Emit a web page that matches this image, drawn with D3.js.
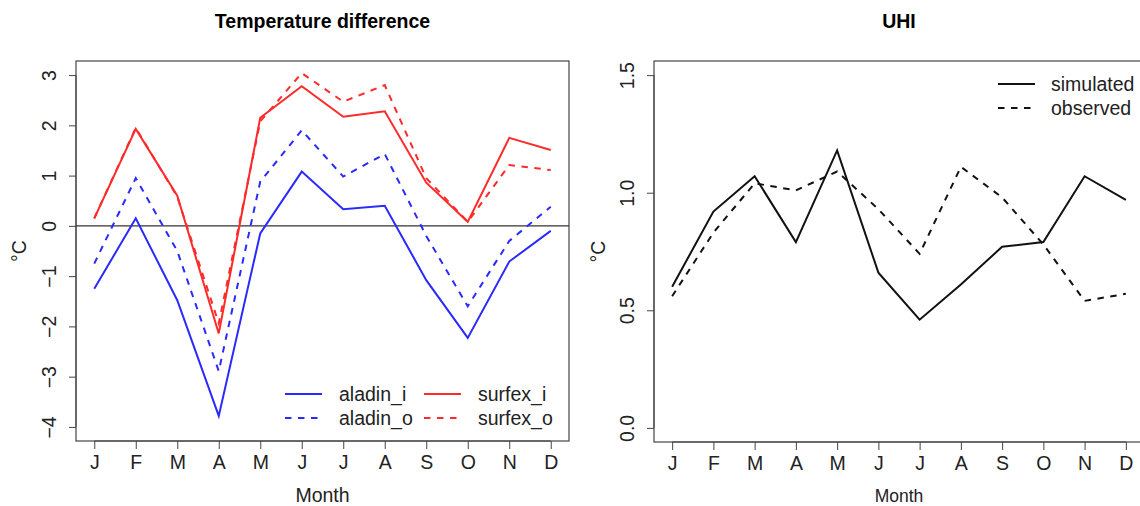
<!DOCTYPE html>
<html>
<head>
<meta charset="utf-8">
<script src="https://cdn.jsdelivr.net/npm/d3@7"></script>
<style>
  body { margin: 0; background: #fff; }
  svg { display: block; font-family: "Liberation Sans", Arial, Helvetica, sans-serif; }
</style>
</head>
<body>
<svg id="chart"></svg>
<script>
// month labels shared by both panels
const months = ['J', 'F', 'M', 'A', 'M', 'J', 'J', 'A', 'S', 'O', 'N', 'D'];

// left panel: temperature difference (°C)
const aladinI = [-1.25, 0.15, -1.48, -3.78, -0.15, 1.08, 0.33, 0.4, -1.08, -2.23, -0.71, -0.1];
const aladinO = [-0.75, 0.95, -0.5, -2.89, 0.88, 1.9, 0.98, 1.43, -0.2, -1.6, -0.3, 0.38];
const surfexI = [0.15, 1.93, 0.6, -2.14, 2.15, 2.78, 2.17, 2.28, 0.86, 0.08, 1.75, 1.51];
const surfexO = [0.15, 1.95, 0.58, -1.94, 2.08, 3.04, 2.47, 2.8, 0.95, 0.08, 1.21, 1.11];
const leftTicks = [-4, -3, -2, -1, 0, 1, 2, 3];

// right panel: UHI
const simulated = [0.6, 0.92, 1.07, 0.79, 1.18, 0.66, 0.46, 0.61, 0.77, 0.79, 1.07, 0.97];
const observed = [0.56, 0.83, 1.04, 1.01, 1.09, 0.93, 0.74, 1.11, 0.98, 0.78, 0.54, 0.57];
const rightTicks = [0, 0.5, 1, 1.5];

const W = 1140;
const H = 506;
const FS = 19.5;
const DASH = '6.5,6.5';
const svg = d3.select('#chart').attr('width', W).attr('height', H);

// R-style 4% axis extension
function pad(lo, hi) {
  const e = (hi - lo) * 0.04;
  return [lo - e, hi + e];
}

function drawPanel(cfg) {
  const { left, right, top, bottom, yDomain, ticks, tickFmt, title, series, legend, zeroLine } = cfg;

  const x = d3.scaleLinear().domain(pad(1, 12)).range([left, right]);
  const y = d3.scaleLinear().domain(pad(yDomain[0], yDomain[1])).range([bottom, top]);

  const g = svg.append('g');

  // title
  g.append('text')
    .attr('x', (left + right) / 2)
    .attr('y', 28)
    .attr('text-anchor', 'middle')
    .attr('font-weight', 'bold')
    .attr('font-size', 19.5)
    .text(title);

  // box
  g.append('rect')
    .attr('x', left).attr('y', top)
    .attr('width', right - left).attr('height', bottom - top)
    .attr('fill', 'none').attr('stroke', '#444').attr('stroke-width', 1.2);

  // x axis
  const xAxis = d3.axisBottom(x)
    .tickValues(d3.range(1, 13))
    .tickFormat((d) => months[d - 1])
    .tickSize(8)
    .tickPadding(6);
  const xg = g.append('g').attr('transform', `translate(0,${bottom})`).call(xAxis);
  xg.select('.domain').attr('d', `M${x(1)},0H${x(12)}`).attr('stroke', '#444');
  xg.selectAll('.tick line').attr('stroke', '#444');
  xg.selectAll('.tick text').attr('font-size', FS).attr('fill', '#222');

  // y axis
  const yAxis = d3.axisLeft(y).tickValues(ticks).tickFormat(tickFmt).tickSize(7);
  const yg = g.append('g').attr('transform', `translate(${left},0)`).call(yAxis);
  yg.select('.domain')
    .attr('d', `M0,${y(ticks[0])}V${y(ticks[ticks.length - 1])}`)
    .attr('stroke', '#444');
  yg.selectAll('.tick line').attr('stroke', '#444');
  yg.selectAll('.tick text')
    .attr('font-size', FS)
    .attr('fill', '#222')
    .attr('x', null).attr('dy', null)
    .attr('text-anchor', 'middle')
    .attr('transform', 'translate(-27,0) rotate(-90)')
    .attr('dominant-baseline', 'central');

  // axis titles
  g.append('text')
    .attr('x', (left + right) / 2)
    .attr('y', 502)
    .attr('text-anchor', 'middle')
    .attr('font-size', cfg.monthSize)
    .attr('fill', '#222')
    .text('Month');
  g.append('text')
    .attr('transform', `translate(${cfg.yLabelX},${(top + bottom) / 2}) rotate(-90)`)
    .attr('text-anchor', 'middle')
    .attr('dominant-baseline', 'central')
    .attr('font-size', FS)
    .attr('fill', '#222')
    .text('°C');

  const clip = `clip-${cfg.id}`;
  g.append('clipPath').attr('id', clip)
    .append('rect').attr('x', left).attr('y', top)
    .attr('width', right - left).attr('height', bottom - top);

  const plot = g.append('g').attr('clip-path', `url(#${clip})`);

  if (zeroLine) {
    plot.append('line')
      .attr('x1', left).attr('x2', right)
      .attr('y1', y(0)).attr('y2', y(0))
      .attr('stroke', '#333').attr('stroke-width', 1.2);
  }

  const line = d3.line().x((d, i) => x(i + 1)).y((d) => y(d));
  series.forEach((s) => {
    plot.append('path')
      .datum(s.values)
      .attr('d', line)
      .attr('fill', 'none')
      .attr('stroke', s.color)
      .attr('stroke-width', 2)
      .attr('stroke-dasharray', s.dash ? DASH : null);
  });

  // legend
  legend.items.forEach((it, i) => {
    const col = Math.floor(i / legend.rows);
    const row = i % legend.rows;
    const lx = legend.x + col * legend.colW;
    const ly = legend.y + row * legend.rowH;
    g.append('line')
      .attr('x1', lx).attr('x2', lx + legend.lineW)
      .attr('y1', ly).attr('y2', ly)
      .attr('stroke', it.color).attr('stroke-width', 2)
      .attr('stroke-dasharray', it.dash ? DASH : null);
    g.append('text')
      .attr('x', lx + legend.lineW + legend.gap)
      .attr('y', ly)
      .attr('dominant-baseline', 'central')
      .attr('font-size', FS)
      .attr('fill', '#222')
      .text(it.name);
  });
}

const blue = '#2a2aff';
const red = '#ff2a2a';

drawPanel({
  id: 'left',
  left: 76, right: 569, top: 61, bottom: 441,
  yDomain: [-4, 3],
  ticks: leftTicks,
  tickFmt: (d) => (d < 0 ? '\u2212' + Math.abs(d) : String(d)),
  title: 'Temperature difference',
  yLabelX: 19,
  monthSize: 19.5,
  zeroLine: true,
  series: [
    { values: aladinI, color: blue, dash: false },
    { values: aladinO, color: blue, dash: true },
    { values: surfexI, color: red, dash: false },
    { values: surfexO, color: red, dash: true },
  ],
  legend: {
    x: 285, y: 394, rows: 2, colW: 139, rowH: 24, lineW: 37, gap: 17,
    items: [
      { name: 'aladin_i', color: blue, dash: false },
      { name: 'aladin_o', color: blue, dash: true },
      { name: 'surfex_i', color: red, dash: false },
      { name: 'surfex_o', color: red, dash: true },
    ],
  },
});

drawPanel({
  id: 'right',
  left: 654, right: 1144, top: 61, bottom: 442,
  yDomain: [0, 1.5],
  ticks: rightTicks,
  tickFmt: d3.format('.1f'),
  title: 'UHI',
  yLabelX: 598,
  monthSize: 17.5,
  zeroLine: false,
  series: [
    { values: simulated, color: '#111', dash: false },
    { values: observed, color: '#111', dash: true },
  ],
  legend: {
    x: 998, y: 84, rows: 2, colW: 0, rowH: 24, lineW: 37, gap: 16,
    items: [
      { name: 'simulated', color: '#111', dash: false },
      { name: 'observed', color: '#111', dash: true },
    ],
  },
});
</script>
</body>
</html>
